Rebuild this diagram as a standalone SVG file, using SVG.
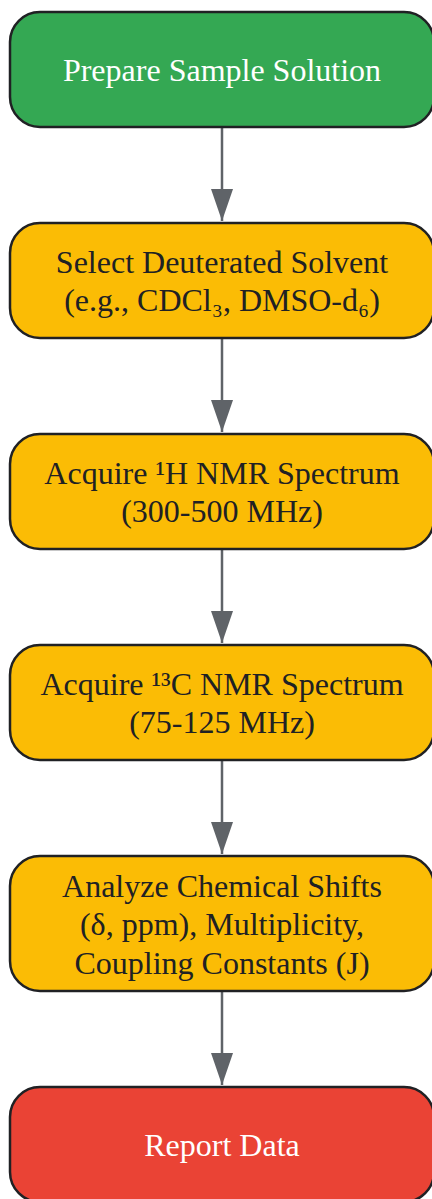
<svg xmlns="http://www.w3.org/2000/svg" width="432" height="1199" viewBox="0 0 432 1199">
<style>
.box{stroke:#202124;stroke-width:2.5}
.green{fill:#34A853}
.yellow{fill:#FBBC05}
.red{fill:#EA4335}
text{font-family:"Liberation Serif","Times New Roman",serif;font-size:32px;text-anchor:middle}
.light{fill:#FFFFFF}
.dark{fill:#202124}
.edge{stroke:#5F6368;stroke-width:2.5;fill:none;marker-end:url(#arrow)}
</style>
<defs>
<marker id="arrow" markerUnits="userSpaceOnUse" markerWidth="32" markerHeight="22" refX="32" refY="11" orient="auto" viewBox="0 0 32 22">
<path d="M0,0 L32,11 L0,22 Z" fill="#5F6368"/>
</marker>
</defs>
<rect width="432" height="1199" fill="#FFFFFF"/>
<g id="connectors">
<line class="edge" x1="222" y1="127" x2="222" y2="221"/>
<line class="edge" x1="222" y1="338" x2="222" y2="432"/>
<line class="edge" x1="222" y1="549" x2="222" y2="643"/>
<line class="edge" x1="222" y1="760" x2="222" y2="854"/>
<line class="edge" x1="222" y1="991" x2="222" y2="1085"/>
</g>
<g id="node1">
<rect class="box green" x="10" y="12" width="424" height="115" rx="30"/>
<text class="light" x="222" y="81">Prepare Sample Solution</text>
</g>
<g id="node2">
<rect class="box yellow" x="10" y="223" width="424" height="115" rx="30"/>
<text class="dark" x="222" y="273">Select Deuterated Solvent</text>
<text class="dark" x="222" y="311">(e.g., CDCl₃, DMSO-d₆)</text>
</g>
<g id="node3">
<rect class="box yellow" x="10" y="434" width="424" height="115" rx="30"/>
<text class="dark" x="222" y="484">Acquire ¹H NMR Spectrum</text>
<text class="dark" x="222" y="522">(300-500 MHz)</text>
</g>
<g id="node4">
<rect class="box yellow" x="10" y="645" width="424" height="115" rx="30"/>
<text class="dark" x="222" y="695">Acquire ¹³C NMR Spectrum</text>
<text class="dark" x="222" y="733">(75-125 MHz)</text>
</g>
<g id="node5">
<rect class="box yellow" x="10" y="856" width="424" height="135" rx="30"/>
<text class="dark" x="222" y="897">Analyze Chemical Shifts</text>
<text class="dark" x="222" y="935">(δ, ppm), Multiplicity,</text>
<text class="dark" x="222" y="974">Coupling Constants (J)</text>
</g>
<g id="node6">
<rect class="box red" x="10" y="1087" width="424" height="115" rx="30"/>
<text class="light" x="222" y="1156">Report Data</text>
</g>
</svg>
